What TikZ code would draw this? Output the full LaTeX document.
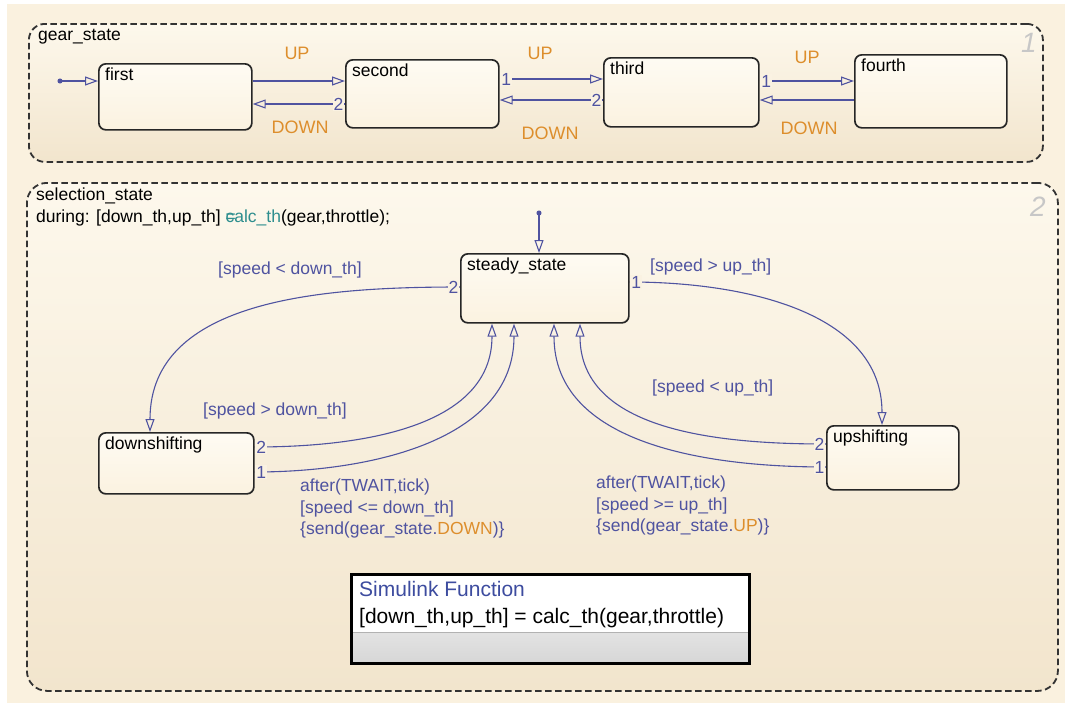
\documentclass[tikz,border=0pt]{standalone}
\usepackage{fontspec}
\setmainfont{Liberation Sans}
\usetikzlibrary{arrows.meta}
\pgfdeclarelayer{boxlayer}
\pgfdeclarelayer{edgelayer}
\pgfdeclarelayer{nodelayer}
\pgfsetlayers{boxlayer,edgelayer,nodelayer,main}
\definecolor{paper}{HTML}{FAF1DF}
\definecolor{charttop}{HTML}{FDF8EC}
\definecolor{chartbot}{HTML}{F2E5CD}
\definecolor{statetop}{HTML}{FEFBF3}
\definecolor{statebot}{HTML}{FBF2E0}
\definecolor{transcol}{HTML}{4F53A0}
\definecolor{evtcol}{HTML}{DD8E2C}
\definecolor{fncol}{HTML}{2E8E8E}
\definecolor{numbg}{HTML}{FAF2E2}
\definecolor{slcol}{HTML}{3D4C9F}
\tikzset{x=1pt, y=1pt, font=\fontsize{17.5}{21.5}\selectfont}
\tikzstyle{none}=[inner sep=0pt]
\tikzstyle{chart}=[draw=black!80, line width=1.8pt, dash pattern=on 6.5pt off 3.5pt, rounded corners=16pt, top color=charttop, bottom color=chartbot, anchor=north west, inner sep=0pt]
\tikzstyle{cname}=[anchor=north west, inner sep=0pt, xshift=10pt, yshift=-6pt, align=left]
\tikzstyle{state}=[draw=black!85, line width=1.7pt, rounded corners=7pt, top color=statetop, bottom color=statebot, anchor=north west, inner sep=0pt]
\tikzstyle{sname}=[anchor=north west, inner sep=0pt, xshift=7pt, yshift=-5pt]
\tikzstyle{trans}=[draw=transcol, line width=1.1pt, -{Triangle[open, length=13pt, width=9pt]}]
\tikzstyle{num}=[text=transcol, fill=numbg, inner sep=1pt]
\tikzstyle{dot}=[circle, fill=transcol, inner sep=1.8pt]
\tikzstyle{event}=[text=evtcol, font=\fontsize{18}{21}\selectfont]
\tikzstyle{guard}=[text=transcol, inner sep=0pt]
\tikzstyle{chartno}=[text=black!22, font=\fontsize{28}{28}\selectfont\itshape]
\tikzstyle{slfun}=[draw=black, line width=3pt, fill=white, anchor=north west, inner sep=0pt,
  path picture={
    \shade[top color=black!2, bottom color=black!16] (path picture bounding box.south west) rectangle ([yshift=31pt]path picture bounding box.south east);
    \draw[black!30, line width=1pt] ([yshift=31pt]path picture bounding box.south west) -- ([yshift=31pt]path picture bounding box.south east);
  }]

\begin{document}
\begin{tikzpicture}
	\useasboundingbox (0,0) rectangle (1065,-707);
	\begin{pgfonlayer}{boxlayer}
		\fill [paper] (7,-4) rectangle (1065,-703);
		\node [style=chart, minimum width=1014, minimum height=138, label={[style=cname]north west:gear\_state}] (0) at (28,-23) {};
		\node [style=chart, rounded corners=20pt, minimum width=1031, minimum height=508, label={[style=cname]north west:selection\_state\\during: [down\_th,up\_th] \textcolor{fncol}{\rlap{=}calc\_th}(gear,throttle);}] (5) at (26,-182) {};
		\node [style=chartno] (20) at (1029,-43) {1};
		\node [style=chartno] (21) at (1038,-207) {2};
	\end{pgfonlayer}
	\begin{pgfonlayer}{nodelayer}
		\node [style=state, minimum width=153, minimum height=66, label={[style=sname]north west:first}] (1) at (98,-63) {};
		\node [style=state, minimum width=153, minimum height=68, label={[style=sname]north west:second}] (2) at (345,-59) {};
		\node [style=state, minimum width=155, minimum height=69, label={[style=sname]north west:third}] (3) at (603,-57) {};
		\node [style=state, minimum width=152, minimum height=73, label={[style=sname]north west:fourth}] (4) at (854,-54) {};
		\node [style=state, minimum width=168, minimum height=69, label={[style=sname]north west:steady\_state}] (6) at (460,-253) {};
		\node [style=state, minimum width=155, minimum height=61, label={[style=sname]north west:downshifting}] (7) at (98,-432) {};
		\node [style=state, minimum width=132, minimum height=64, label={[style=sname]north west:upshifting}] (8) at (826,-425) {};
		\node [style=dot] (9) at (60,-81) {};
		\node [style=dot] (10) at (539,-213) {};
		\node [style=slfun, minimum width=398, minimum height=89] (11) at (350,-573) {};
		\node [anchor=west, inner sep=0pt, text=slcol, font=\fontsize{21}{24}\selectfont] (12) at (359,-589) {Simulink Function};
		\node [anchor=west, inner sep=0pt, font=\fontsize{21}{24}\selectfont] (13) at (359,-618) {[down\_th,up\_th] = calc\_th(gear,throttle)};
		\node [style=event] (14) at (297,-53) {UP};
		\node [style=event] (15) at (300,-127) {DOWN};
		\node [style=event] (16) at (540,-53) {UP};
		\node [style=event] (17) at (550,-133) {DOWN};
		\node [style=event] (18) at (807,-57) {UP};
		\node [style=event] (19) at (809,-128) {DOWN};
		\node [style=guard, anchor=west] (22) at (218,-270) {[speed < down\_th]};
		\node [style=guard, anchor=west] (23) at (650,-267) {[speed > up\_th]};
		\node [style=guard, anchor=west] (24) at (203,-411) {[speed > down\_th]};
		\node [style=guard, anchor=west] (25) at (652,-388) {[speed < up\_th]};
		\node [style=guard, anchor=north west, align=left] (26) at (300,-479) {after(TWAIT,tick)\\{}[speed <= down\_th]\\\{send(gear\_state.\textcolor{evtcol}{DOWN})\}};
		\node [style=guard, anchor=north west, align=left] (27) at (596,-476) {after(TWAIT,tick)\\{}[speed >= up\_th]\\\{send(gear\_state.\textcolor{evtcol}{UP})\}};
	\end{pgfonlayer}
	\begin{pgfonlayer}{edgelayer}
		\draw [style=trans] (9.center) to ([yshift=-18]1.north west);
		\draw [style=trans] ([yshift=-18]1.north east) to ([yshift=-22]2.north west);
		\draw [style=trans] ([yshift=-45]2.north west) node [style=num, anchor=east] {2} to ([yshift=-41]1.north east);
		\draw [style=trans] ([yshift=-20]2.north east) node [style=num, anchor=west] {1} to ([yshift=-22]3.north west);
		\draw [style=trans] ([yshift=-43]3.north west) node [style=num, anchor=east] {2} to ([yshift=-41]2.north east);
		\draw [style=trans] ([yshift=-24]3.north east) node [style=num, anchor=west] {1} to ([yshift=-27]4.north west);
		\draw [style=trans] ([yshift=-46]4.north west) to ([yshift=-43]3.north east);
		\draw [style=trans] (10.center) to ([xshift=79]6.north west);
		\draw [style=trans, out=180, in=90] ([yshift=-34]6.north west) node [style=num, anchor=east] {2} to ([xshift=52]7.north west);
		\draw [style=trans, out=0, in=90] ([yshift=-29]6.north east) node [style=num, anchor=west] {1} to ([xshift=56]8.north west);
		\draw [style=trans, out=0, in=-90] ([yshift=-15]7.north east) node [style=num, anchor=west] {2} to ([xshift=32]6.south west);
		\draw [style=trans, out=0, in=-90] ([yshift=-40]7.north east) node [style=num, anchor=west] {1} to ([xshift=54]6.south west);
		\draw [style=trans, out=180, in=-90] ([yshift=-19]8.north west) node [style=num, anchor=east] {2} to ([xshift=120]6.south west);
		\draw [style=trans, out=180, in=-90] ([yshift=-42]8.north west) node [style=num, anchor=east] {1} to ([xshift=94]6.south west);
	\end{pgfonlayer}
\end{tikzpicture}
\end{document}
